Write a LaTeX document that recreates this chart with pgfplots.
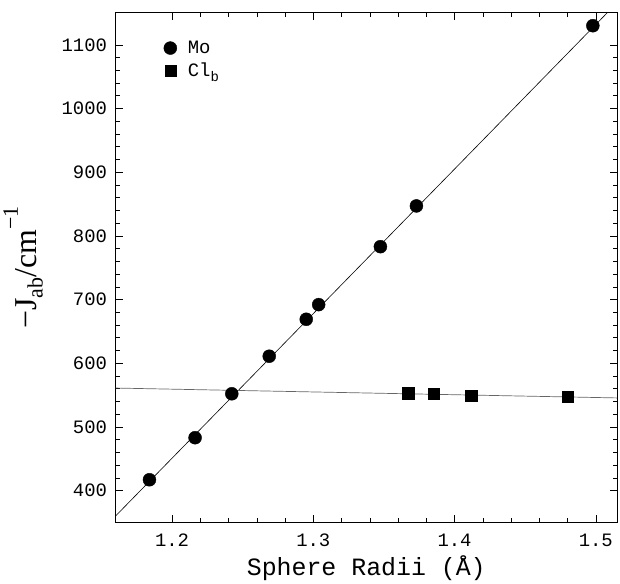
\documentclass[border=0pt]{standalone}
\usepackage{pgfplots}
\pgfplotsset{compat=1.18}
\usepackage{fontspec}
\setmainfont{Liberation Mono}
\newfontfamily\serif{Liberation Serif}

\begin{document}
\begin{tikzpicture}
\begin{axis}[
  scale only axis,
  width=502bp, height=510bp,
  xmin=1.16, xmax=1.515,
  ymin=350, ymax=1150,
  xtick={1.2,1.3,1.4,1.5},
  ytick={400,500,...,1100},
  minor x tick num=4,
  minor y tick num=4,
  tick align=inside,
  major tick length=7bp,
  minor tick length=4bp,
  axis line style={line width=1pt},
  every tick/.style={black, line width=0.6pt},
  /pgf/number format/assume math mode=true,
  /pgf/number format/1000 sep={},
  tick label style={font=\fontsize{19}{19}\selectfont},
  xticklabel style={/pgf/number format/fixed, /pgf/number format/precision=1, yshift=-8bp},
  yticklabel style={xshift=-5bp},
  xlabel={Sphere Radii (Å)},
  xlabel style={font=\fontsize{25}{25}\selectfont, yshift=-2bp},
  ylabel={\serif −J\raisebox{-0.45ex}{\fontsize{22}{22}\selectfont ab}/cm\raisebox{1.25ex}{\fontsize{22}{22}\selectfont −1}},
  ylabel style={font=\fontsize{32}{32}\selectfont, yshift=12bp},
  legend style={at={(0.09,0.953)}, anchor=north west, draw=none, fill=none,
    font=\fontsize{19}{19}\selectfont, row sep=4bp},
  legend cell align=left,
]
% Mo
\addplot[only marks, mark=*, mark size=6.5bp, black] coordinates {
  (1.184,417) (1.2163,483) (1.2423,552) (1.2688,611) (1.295,669)
  (1.3038,692) (1.3475,783) (1.373,847) (1.4979,1130)
};
% Cl_b
\addplot[only marks, mark=square*, mark size=5.6bp, black] coordinates {
  (1.3672,553) (1.3853,552) (1.4118,549) (1.4799,547)
};
\legend{\hspace*{9bp}Mo, \hspace*{9bp}Cl\raisebox{-0.45ex}{\fontsize{14}{14}\selectfont b}}
% fitted lines
\addplot[black, line width=0.6pt, forget plot] coordinates {(1.16,360) (1.515,1166)};
\addplot[black!60, line width=0.7pt, forget plot] coordinates {(1.16,561) (1.515,545.5)};
\end{axis}
\path ([shift={(-115bp,-59bp)}]current axis.south west) rectangle ([shift={(3bp,13bp)}]current axis.north east);
\end{tikzpicture}
\end{document}
